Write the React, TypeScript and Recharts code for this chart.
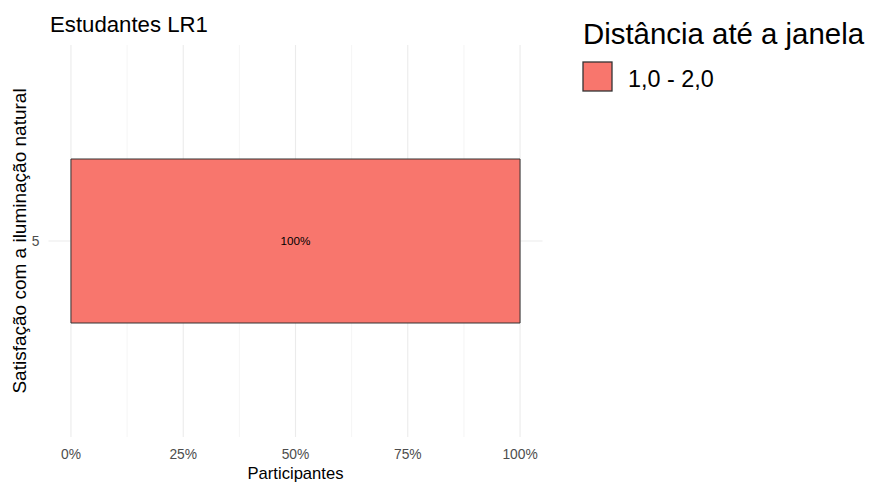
import { BarChart, Bar, XAxis, YAxis, CartesianGrid, LabelList } from "recharts";

// Satisfação com a iluminação natural, por distância até a janela
const categories = ["5"];
const shares = [100];
const seriesName = "1,0 - 2,0";
const xTicks = [0, 25, 50, 75, 100];
const xMinor = [12.5, 37.5, 62.5, 87.5];
const xDomain = [-5, 105];

const FONT = "'Liberation Sans', Arial, sans-serif";
const FILL = "#F8766D";

// minor gridline positions, mapped onto the plot area that recharts hands us
const minorLines = ({ offset }: any) =>
  xMinor.map((v) => offset.left + (offset.width * (v - xDomain[0])) / (xDomain[1] - xDomain[0]));

export default function App() {
  const data = categories.map((c, i) => ({ cat: c, value: shares[i] }));

  return (
    <div style={{ position: "fixed", left: 0, top: 0, width: 869, height: 486, background: "#fff", fontFamily: FONT }}>
      <BarChart
        width={869}
        height={486}
        data={data}
        layout="vertical"
        margin={{ top: 45, right: 326.5, left: 28.5, bottom: 19 }}
      >
        <CartesianGrid horizontal={false} stroke="#EBEBEB" strokeWidth={0.55} verticalCoordinatesGenerator={minorLines} />
        <CartesianGrid stroke="#EBEBEB" strokeWidth={1.1} syncWithTicks />
        <XAxis
          type="number"
          domain={xDomain}
          ticks={xTicks}
          allowDataOverflow
          tickFormatter={(v) => `${v}%`}
          tick={{ fill: "#4D4D4D", fontSize: 13.8, fontFamily: FONT }}
          tickLine={false}
          axisLine={false}
          height={30}
          tickMargin={6}
        />
        <YAxis
          type="category"
          dataKey="cat"
          width={20}
          tick={{ fill: "#4D4D4D", fontSize: 13.8, fontFamily: FONT }}
          tickLine={false}
          axisLine={false}
          tickMargin={3}
        />
        <Bar dataKey="value" name={seriesName} fill={FILL} stroke="#333" strokeWidth={1} barSize={164} isAnimationActive={false}>
          <LabelList dataKey="value" position="center" formatter={(v: any) => `${v}%`} style={{ fill: "#000", fontSize: 11.7, fontFamily: FONT }} />
        </Bar>
      </BarChart>

      <svg width={869} height={486} style={{ position: "absolute", left: 0, top: 0, pointerEvents: "none" }} fontFamily={FONT}>
        {/* title */}
        <text x={50} y={32} fontSize={22.2} fill="#000">Estudantes LR1</text>
        {/* axis titles */}
        <text x={295.5} y={479} fontSize={16.6} fill="#000" textAnchor="middle">Participantes</text>
        <text x={0} y={0} fontSize={19} fill="#000" textAnchor="middle" transform="translate(25.5 241) rotate(-90)">
          Satisfação com a iluminação natural
        </text>
        {/* legend */}
        <text x={583} y={44} fontSize={29.4} fill="#000">Distância até a janela</text>
        <rect x={583} y={62} width={29} height={29} fill={FILL} stroke="#333" strokeWidth={1.3} />
        <text x={628} y={87} fontSize={23.4} fill="#000">{seriesName}</text>
      </svg>
    </div>
  );
}
